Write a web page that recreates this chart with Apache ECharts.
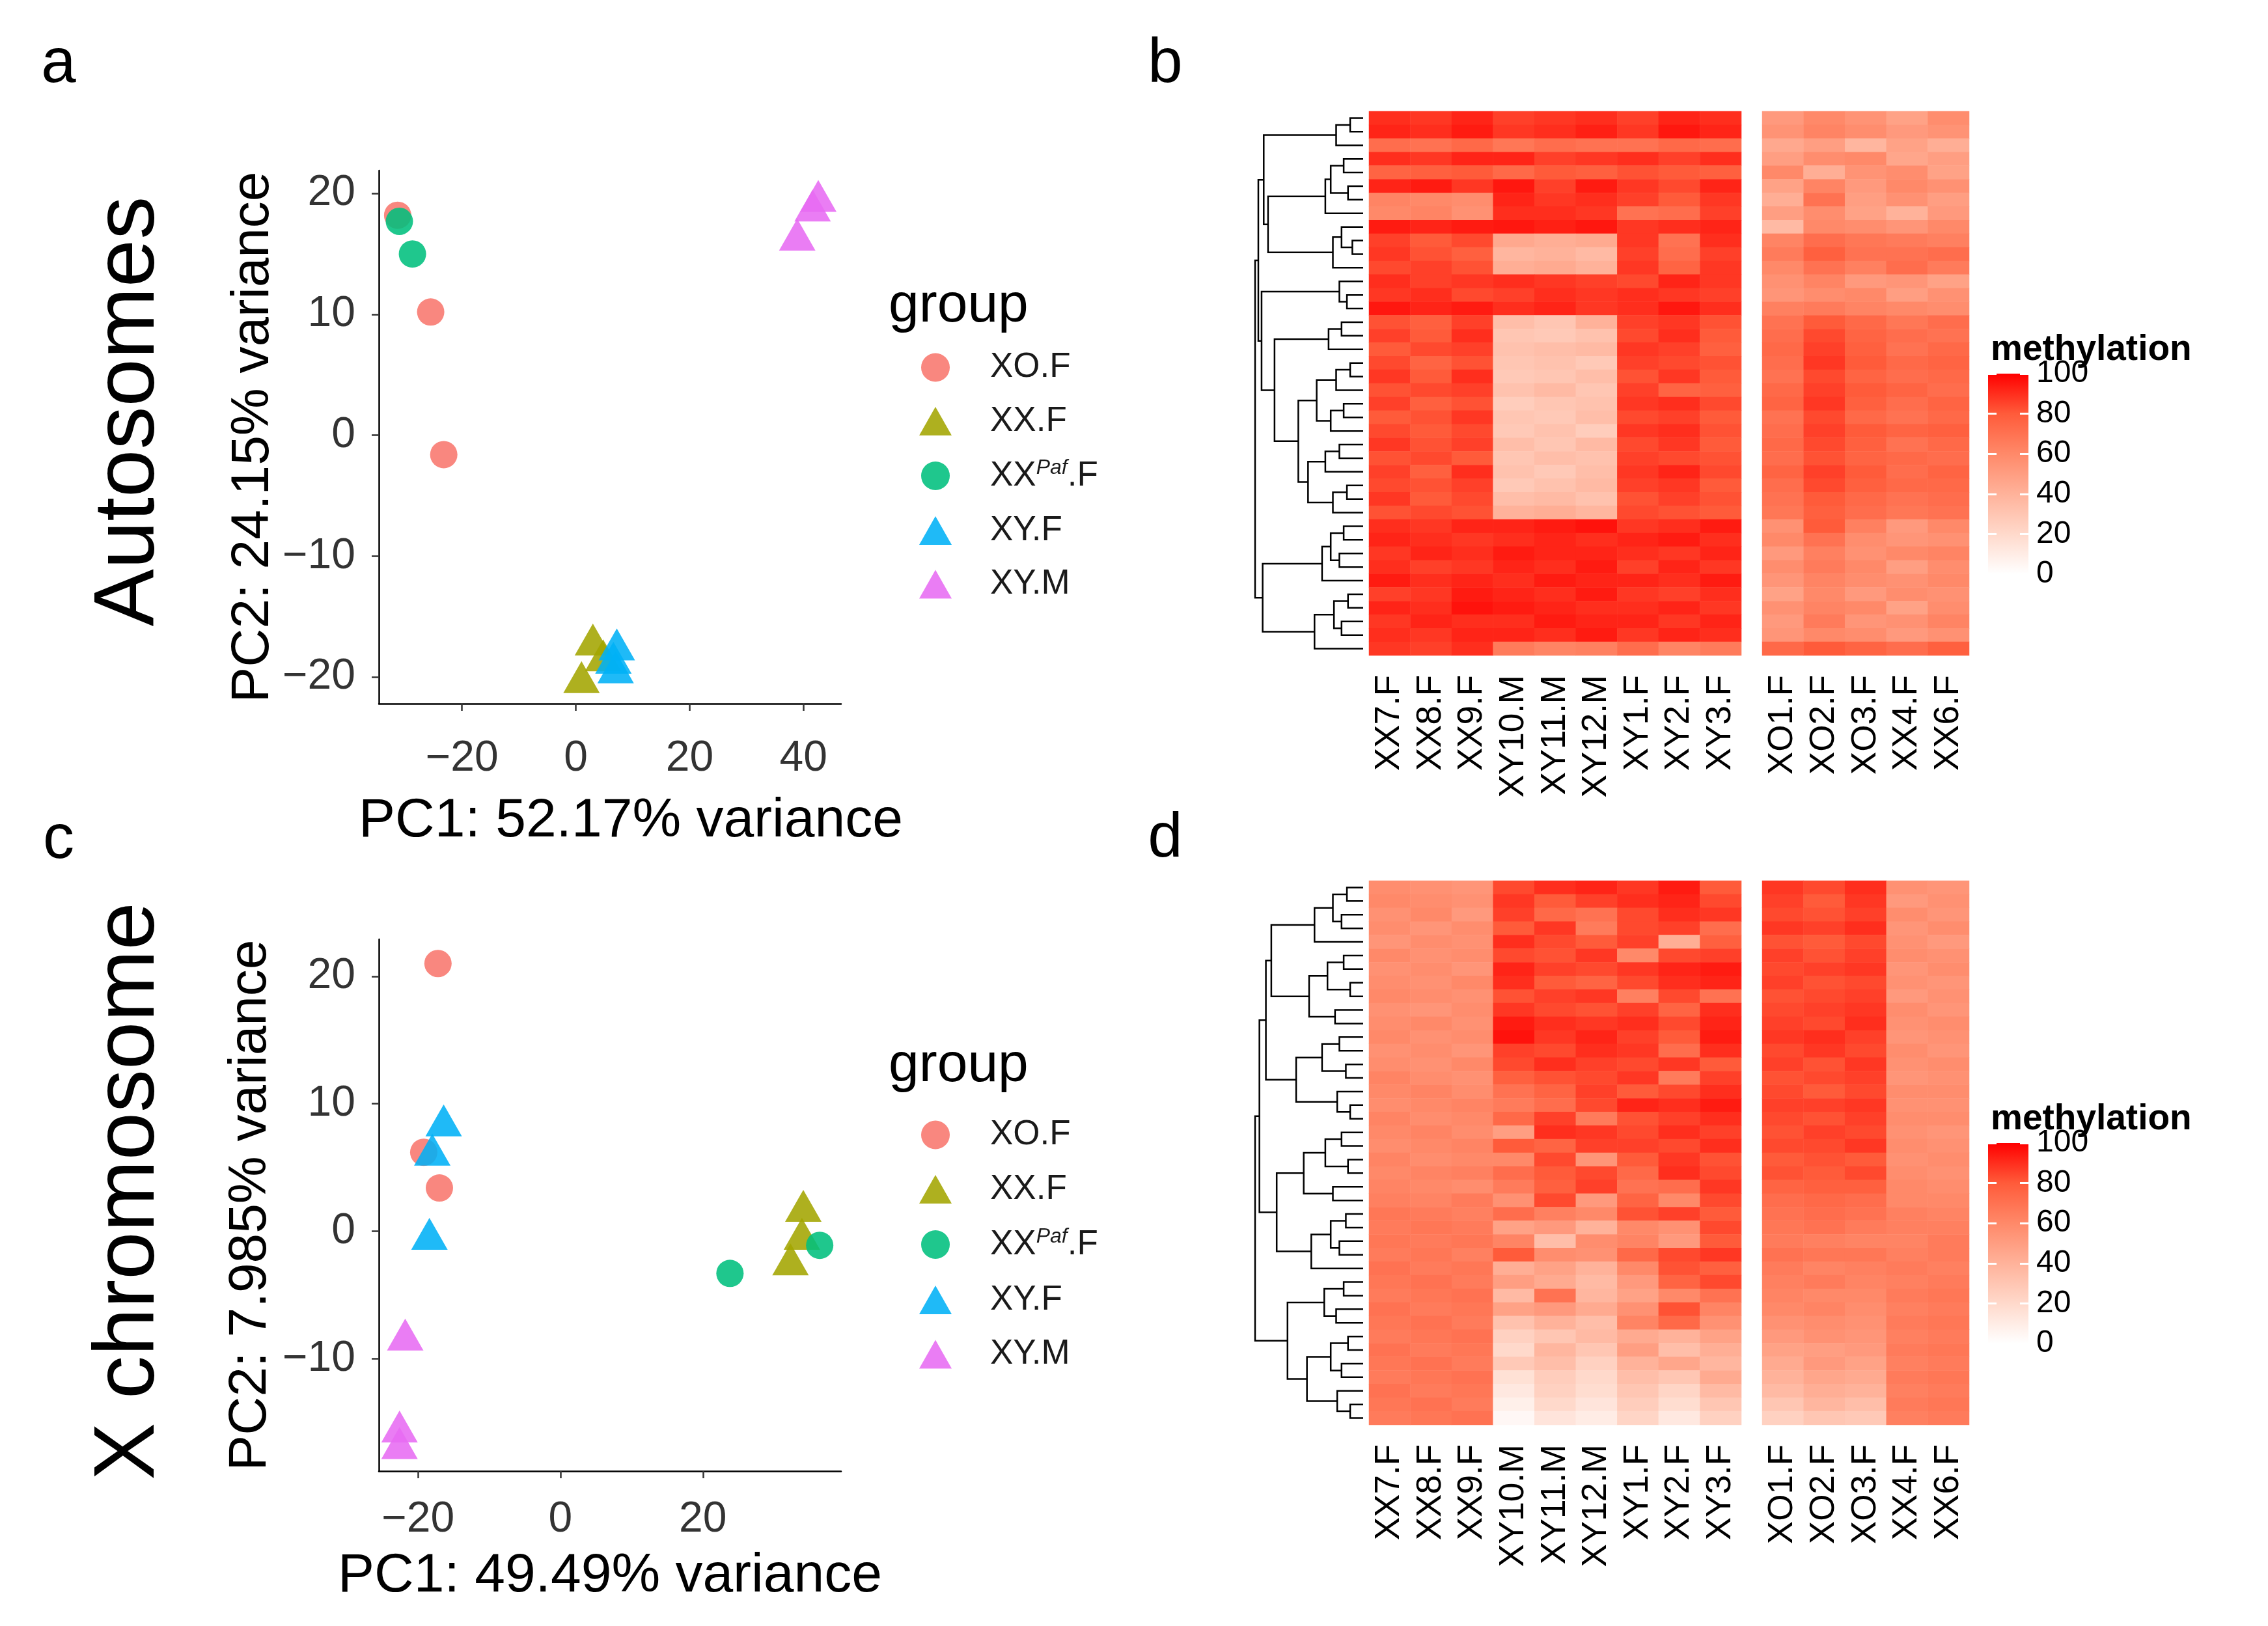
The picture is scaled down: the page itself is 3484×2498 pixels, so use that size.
<!DOCTYPE html>
<html>
<head>
<meta charset="utf-8">
<script src="https://cdn.jsdelivr.net/npm/echarts@6/dist/echarts.min.js"></script>
<style>
html, body { margin: 0; padding: 0; background: #fff; }
#main { width: 3484px; height: 2498px; }
</style>
</head>
<body>
<div id="main"></div>
<script>
var FONT = '"Liberation Sans", Arial, Helvetica, sans-serif';
var NARROW = '"Liberation Sans Narrow", "Arial Narrow", "Liberation Sans", Arial, sans-serif';

// groups shared by both PCA plots
var groups = ['XO.F', 'XX.F', 'XXPaf.F', 'XY.F', 'XY.M'];
var groupColors = ['#F8766D', '#A3A500', '#00BF7D', '#00B0F6', '#E76BF3'];
var groupShapes = ['circle', 'triangle', 'circle', 'triangle', 'triangle'];

// a: autosomes PCA  [PC1, PC2]
var autoXO = [[-31.3, 18.2], [-25.5, 10.2], [-23.2, -1.6]];
var autoXX = [[3.0, -16.9], [1.0, -20.0], [4.8, -18.2]];
var autoXXPaf = [[-31.0, 17.7], [-28.7, 15.0]];
var autoXYF = [[7.2, -17.3], [6.6, -18.4], [7.0, -19.2]];
var autoXYM = [[42.6, 19.8], [41.6, 19.0], [38.9, 16.6]];
var autoXTicks = [-20, 0, 20, 40];
var autoYTicks = [-20, -10, 0, 10, 20];

// c: X chromosome PCA
var xchrXO = [[-17.2, 21.0], [-19.2, 6.2], [-17.0, 3.4]];
var xchrXX = [[34.1, 2.0], [33.9, -0.2], [32.3, -2.2]];
var xchrXXPaf = [[23.8, -3.3], [36.4, -1.1]];
var xchrXYF = [[-16.4, 8.7], [-18.0, 6.4], [-18.4, -0.2]];
var xchrXYM = [[-21.8, -8.1], [-22.6, -15.3], [-22.6, -16.6]];
var xchrXTicks = [-20, 0, 20];
var xchrYTicks = [-10, 0, 10, 20];

// heatmap samples
var sampleLeft = ['XX7.F', 'XX8.F', 'XX9.F', 'XY10.M', 'XY11.M', 'XY12.M', 'XY1.F', 'XY2.F', 'XY3.F'];
var sampleRight = ['XO1.F', 'XO2.F', 'XO3.F', 'XX4.F', 'XX6.F'];

// b: autosomes methylation, one row per region (left 9 samples | right 5 samples)
var autoMeth = [
  [90, 88, 92, 86, 88, 90, 86, 92, 90, 52, 60, 55, 48, 58],
  [92, 90, 94, 88, 90, 93, 88, 95, 92, 55, 62, 58, 52, 55],
  [72, 70, 74, 68, 72, 70, 70, 74, 72, 45, 50, 38, 48, 42],
  [90, 88, 92, 92, 86, 88, 90, 86, 90, 50, 58, 60, 46, 50],
  [76, 78, 80, 74, 80, 78, 82, 80, 78, 60, 42, 55, 58, 48],
  [92, 94, 88, 95, 86, 94, 88, 84, 92, 48, 62, 52, 60, 56],
  [62, 60, 58, 92, 88, 90, 86, 80, 88, 42, 70, 50, 56, 50],
  [60, 62, 56, 90, 90, 88, 70, 72, 86, 50, 58, 48, 40, 52],
  [94, 92, 94, 95, 93, 95, 88, 90, 92, 36, 60, 58, 54, 60],
  [86, 80, 84, 45, 42, 44, 88, 70, 90, 62, 72, 68, 66, 64],
  [88, 82, 78, 38, 40, 36, 86, 72, 86, 66, 78, 70, 70, 72],
  [84, 86, 82, 42, 44, 40, 88, 76, 88, 60, 70, 64, 72, 66],
  [90, 86, 88, 90, 88, 86, 84, 92, 88, 56, 62, 52, 54, 48],
  [88, 90, 84, 86, 90, 88, 90, 88, 86, 54, 58, 60, 50, 56],
  [95, 92, 94, 90, 92, 88, 90, 95, 90, 64, 66, 62, 60, 58],
  [82, 78, 86, 34, 30, 40, 86, 88, 82, 70, 80, 74, 68, 72],
  [86, 80, 90, 30, 28, 32, 84, 90, 80, 72, 84, 76, 72, 70],
  [80, 84, 86, 32, 34, 36, 88, 86, 78, 74, 86, 78, 70, 74],
  [84, 76, 82, 30, 32, 28, 86, 84, 82, 72, 88, 80, 74, 76],
  [88, 80, 90, 28, 30, 34, 82, 88, 80, 70, 84, 76, 72, 74],
  [82, 84, 86, 32, 36, 30, 86, 76, 78, 74, 86, 80, 76, 72],
  [86, 78, 82, 26, 30, 32, 88, 90, 84, 76, 88, 78, 72, 76],
  [80, 82, 88, 30, 28, 34, 84, 86, 80, 70, 84, 74, 70, 74],
  [84, 80, 84, 28, 32, 26, 88, 90, 82, 72, 86, 80, 76, 78],
  [88, 82, 86, 34, 30, 36, 84, 88, 80, 74, 84, 78, 70, 74],
  [82, 84, 80, 30, 34, 32, 86, 84, 82, 72, 82, 76, 74, 72],
  [86, 78, 90, 32, 28, 34, 88, 92, 84, 76, 86, 80, 72, 76],
  [84, 82, 86, 28, 32, 36, 86, 88, 80, 72, 84, 78, 74, 74],
  [88, 80, 84, 34, 36, 32, 82, 86, 82, 70, 80, 74, 70, 72],
  [82, 84, 82, 40, 42, 38, 84, 82, 80, 68, 78, 72, 68, 70],
  [90, 88, 92, 92, 94, 96, 88, 90, 94, 56, 80, 64, 52, 60],
  [92, 90, 88, 90, 92, 90, 92, 94, 90, 60, 70, 58, 54, 56],
  [88, 92, 90, 94, 92, 92, 90, 88, 92, 52, 64, 56, 60, 62],
  [90, 86, 88, 92, 90, 94, 86, 92, 88, 58, 66, 60, 50, 58],
  [94, 90, 92, 90, 94, 92, 92, 90, 94, 54, 62, 58, 56, 60],
  [86, 88, 94, 92, 90, 94, 88, 86, 90, 48, 60, 52, 58, 56],
  [92, 90, 96, 94, 92, 90, 90, 92, 88, 56, 62, 60, 48, 58],
  [88, 92, 90, 90, 94, 92, 92, 88, 92, 52, 66, 54, 56, 62],
  [90, 88, 92, 92, 90, 94, 88, 92, 90, 54, 60, 58, 52, 56],
  [88, 86, 90, 66, 62, 64, 72, 62, 66, 74, 80, 76, 72, 78]
];

// d: X chromosome methylation
var xchrMeth = [
  [58, 56, 54, 84, 90, 92, 88, 94, 80, 88, 84, 90, 56, 54],
  [60, 58, 56, 88, 80, 86, 90, 92, 84, 86, 80, 88, 52, 56],
  [56, 60, 52, 86, 74, 70, 84, 90, 88, 84, 82, 86, 58, 54],
  [58, 54, 58, 80, 88, 66, 84, 86, 72, 88, 86, 90, 54, 58],
  [54, 58, 56, 90, 84, 80, 86, 42, 78, 82, 80, 84, 56, 52],
  [60, 56, 58, 84, 82, 88, 60, 84, 86, 86, 82, 86, 58, 56],
  [56, 58, 54, 92, 86, 84, 88, 92, 94, 84, 86, 88, 54, 58],
  [58, 56, 60, 90, 80, 76, 84, 90, 92, 86, 82, 84, 56, 54],
  [60, 58, 56, 82, 86, 88, 64, 84, 70, 82, 84, 86, 52, 56],
  [56, 54, 58, 88, 84, 82, 86, 76, 90, 84, 86, 88, 58, 54],
  [58, 60, 56, 94, 90, 88, 90, 84, 92, 86, 84, 90, 56, 58],
  [60, 56, 58, 96, 88, 92, 86, 80, 94, 88, 90, 86, 54, 56],
  [56, 58, 54, 86, 84, 90, 88, 72, 90, 84, 88, 84, 58, 54],
  [58, 56, 60, 84, 90, 86, 84, 88, 80, 86, 82, 88, 56, 58],
  [62, 58, 56, 78, 82, 84, 88, 66, 86, 82, 84, 86, 54, 56],
  [60, 62, 58, 70, 76, 86, 80, 84, 90, 84, 80, 84, 58, 58],
  [58, 60, 62, 66, 72, 84, 92, 90, 94, 86, 86, 88, 56, 56],
  [62, 58, 60, 74, 86, 66, 82, 86, 90, 84, 82, 86, 58, 58],
  [60, 62, 58, 50, 90, 88, 84, 90, 86, 82, 86, 84, 56, 54],
  [58, 60, 62, 80, 76, 86, 86, 84, 90, 84, 84, 88, 58, 56],
  [62, 58, 60, 60, 84, 54, 80, 88, 82, 80, 82, 80, 56, 58],
  [60, 62, 64, 72, 80, 84, 74, 90, 84, 82, 80, 84, 58, 56],
  [62, 60, 58, 66, 78, 86, 70, 72, 88, 76, 78, 78, 60, 58],
  [64, 62, 66, 56, 84, 52, 76, 60, 84, 72, 74, 72, 60, 60],
  [68, 66, 64, 72, 64, 60, 82, 86, 80, 70, 72, 70, 64, 62],
  [66, 68, 66, 48, 52, 40, 60, 56, 84, 68, 70, 66, 64, 64],
  [68, 66, 68, 62, 34, 58, 62, 52, 80, 66, 64, 62, 62, 66],
  [66, 68, 64, 80, 58, 56, 74, 84, 88, 70, 68, 68, 64, 66],
  [70, 66, 68, 42, 48, 40, 60, 82, 78, 66, 62, 64, 66, 64],
  [68, 70, 66, 50, 44, 36, 52, 76, 84, 64, 66, 62, 64, 66],
  [66, 68, 70, 36, 70, 38, 48, 60, 70, 62, 60, 60, 66, 68],
  [70, 66, 68, 48, 52, 44, 56, 82, 62, 60, 62, 58, 64, 66],
  [68, 70, 66, 32, 40, 34, 62, 74, 56, 56, 58, 56, 66, 68],
  [66, 68, 70, 24, 30, 36, 44, 40, 48, 52, 56, 54, 64, 66],
  [70, 66, 68, 20, 38, 30, 50, 34, 42, 48, 50, 52, 66, 68],
  [68, 70, 66, 28, 34, 24, 40, 46, 38, 44, 52, 48, 64, 66],
  [66, 68, 70, 16, 26, 20, 34, 30, 44, 40, 46, 44, 66, 68],
  [70, 66, 68, 12, 24, 18, 30, 22, 36, 36, 42, 40, 64, 66],
  [68, 70, 66, 8, 20, 14, 26, 18, 30, 30, 38, 34, 66, 68],
  [66, 68, 70, 4, 14, 10, 22, 12, 24, 24, 30, 28, 64, 66]
];

// row dendrograms: merge height between neighbouring rows (top to bottom)
var autoGaps = [12, 25, 92, 18, 30, 14, 35, 88, 20, 10, 28, 97, 22, 15, 94, 20, 32, 82, 12,
  25, 43, 18, 30, 60, 22, 35, 51, 15, 28, 100, 18, 30, 22, 38, 93, 14, 27, 20, 45];
var xchrGaps = [15, 28, 20, 45, 85, 18, 33, 12, 50, 26, 90, 22, 38, 16, 62, 24, 12, 96, 20,
  35, 14, 55, 28, 80, 16, 30, 22, 48, 100, 18, 36, 25, 70, 14, 30, 20, 52, 24, 12];

// methylation colour scale
var colorBreaks = [0, 20, 40, 60, 80, 100];
var colorStops = ['#FFFFFF', '#FFD9CB', '#FFB29A', '#FF8969', '#FF5B3A', '#FF0000'];

var grids = [], xAxes = [], yAxes = [], series = [], heatSeries = [];

function minus(v) { return String(v).replace('-', '\u2212'); }

function addPca(box, xr, yr, xt, yt, xName, yName, gaps, labelGap, xNameShift, sets) {
  grids.push(box);
  var gi = grids.length - 1;
  var axisCommon = {
    gridIndex: gi, type: 'value', nameLocation: 'middle',
    nameTextStyle: { fontSize: 82, color: '#000', fontFamily: FONT },
    splitLine: { show: false }
  };
  xAxes.push(Object.assign({}, axisCommon, {
    min: xr[0], max: xr[1], name: xName, nameGap: gaps[0],
    nameTextStyle: { fontSize: 84, color: '#000', fontFamily: FONT, padding: [0, 0, 0, xNameShift] },
    axisLine: { show: true, onZero: false, lineStyle: { color: '#000', width: 2.5 } },
    axisTick: { show: true, length: 11, customValues: xt, lineStyle: { color: '#333', width: 2.5 } },
    axisLabel: { customValues: xt, margin: labelGap[0], fontSize: 66, color: '#333', fontFamily: NARROW, formatter: minus }
  }));
  yAxes.push(Object.assign({}, axisCommon, {
    min: yr[0], max: yr[1], name: yName, nameGap: gaps[1], nameRotate: 90,
    axisLine: { show: true, onZero: false, lineStyle: { color: '#000', width: 2.5 } },
    axisTick: { show: true, length: 11, customValues: yt, lineStyle: { color: '#333', width: 2.5 } },
    axisLabel: { customValues: yt, margin: labelGap[1], fontSize: 66, color: '#333', fontFamily: NARROW, formatter: minus }
  }));
  var xi = xAxes.length - 1, yi = yAxes.length - 1;
  sets.forEach(function (d, i) {
    series.push({
      type: 'scatter', name: groups[i], xAxisIndex: xi, yAxisIndex: yi, data: d,
      symbol: groupShapes[i], symbolSize: groupShapes[i] === 'circle' ? 42 : [56, 49],
      itemStyle: { color: groupColors[i], opacity: 0.88 }, silent: true
    });
  });
}

// split a row range at its highest gap, recursively
function buildTree(gaps, lo, hi, out) {
  if (lo === hi) return { y: lo, h: 0 };
  var k = lo;
  for (var i = lo; i < hi; i++) if (gaps[i] > gaps[k]) k = i;
  var L = buildTree(gaps, lo, k, out), R = buildTree(gaps, k + 1, hi, out);
  out.push([gaps[k], L.y, R.y, L.h, R.h]);
  return { y: (L.y + R.y) / 2, h: gaps[k] };
}

function addHeat(top, meth, gaps) {
  var rows = meth.map(function (r, i) { return 'r' + i; });
  var hgt = 836;

  // dendrogram
  grids.push({ left: 1928, top: top, width: 166, height: hgt });
  xAxes.push({ gridIndex: grids.length - 1, type: 'value', min: 0, max: 100, inverse: true, show: false });
  yAxes.push({ gridIndex: grids.length - 1, type: 'value', min: -0.5, max: meth.length - 0.5, inverse: true, show: false });
  var nodes = [];
  buildTree(gaps, 0, meth.length - 1, nodes);
  series.push({
    type: 'custom', xAxisIndex: xAxes.length - 1, yAxisIndex: yAxes.length - 1, silent: true,
    data: nodes, encode: { x: [0, 3, 4], y: [1, 2] },
    renderItem: function (params, api) {
      var h = api.value(0), y1 = api.value(1), y2 = api.value(2);
      var pts = [api.coord([api.value(3), y1]), api.coord([h, y1]), api.coord([h, y2]), api.coord([api.value(4), y2])];
      return { type: 'polyline', shape: { points: pts }, style: { stroke: '#000', lineWidth: 2.5, fill: null } };
    }
  });

  // two heatmap blocks
  [[2103, 572, sampleLeft, 0], [2707, 318, sampleRight, sampleLeft.length]].forEach(function (b) {
    grids.push({ left: b[0], top: top, width: b[1], height: hgt });
    var gi = grids.length - 1;
    xAxes.push({
      gridIndex: gi, type: 'category', data: b[2], position: 'bottom',
      axisLine: { show: false }, axisTick: { show: false }, splitLine: { show: false },
      axisLabel: { interval: 0, rotate: 90, margin: 30, fontSize: 53, color: '#000', fontFamily: FONT }
    });
    yAxes.push({ gridIndex: gi, type: 'category', data: rows, inverse: true, show: false });
    var data = [];
    meth.forEach(function (r, ri) {
      b[2].forEach(function (s, ci) { data.push([ci, ri, r[b[3] + ci]]); });
    });
    series.push({
      type: 'heatmap', xAxisIndex: xAxes.length - 1, yAxisIndex: yAxes.length - 1,
      data: data, silent: true, progressive: 0, itemStyle: { borderWidth: 0 }
    });
    heatSeries.push(series.length - 1);
  });

  // colour bar
  grids.push({ left: 3054, top: top + 403, width: 62, height: 308 });
  var gc = grids.length - 1;
  xAxes.push({ gridIndex: gc, type: 'category', data: ['methylation'], show: false });
  var lo = colorBreaks[0], hi = colorBreaks[colorBreaks.length - 1];
  var tickStyle = { show: true, inside: true, length: 13, lineStyle: { color: '#fff', width: 3 } };
  yAxes.push({
    gridIndex: gc, type: 'value', position: 'right', min: lo, max: hi, interval: 20, z: 10,
    axisLine: { show: false }, axisTick: tickStyle, splitLine: { show: false },
    axisLabel: { margin: 12, fontSize: 48, color: '#000', fontFamily: FONT }
  });
  var yr = yAxes.length - 1;
  yAxes.push({
    gridIndex: gc, type: 'value', position: 'left', min: lo, max: hi, interval: 20, z: 10,
    axisLine: { show: false }, axisTick: tickStyle, splitLine: { show: false }, axisLabel: { show: false }
  });
  series.push({
    type: 'bar', xAxisIndex: xAxes.length - 1, yAxisIndex: yr, data: [hi], barWidth: '100%', silent: true,
    itemStyle: {
      color: new echarts.graphic.LinearGradient(0, 1, 0, 0, colorStops.map(function (c, i) {
        return { offset: (colorBreaks[i] - lo) / (hi - lo), color: c };
      }))
    }
  });
}

addPca({ left: 582, top: 262, width: 710, height: 819 }, [-34.6, 46.6], [-22.2, 21.9],
  autoXTicks, autoYTicks, 'PC1: 52.17% variance', 'PC2: 24.15% variance', [139, 118], [52, 36], 64,
  [autoXO, autoXX, autoXXPaf, autoXYF, autoXYM]);
addPca({ left: 582, top: 1443, width: 710, height: 817 }, [-25.5, 39.4], [-18.8, 22.9],
  xchrXTicks, xchrYTicks, 'PC1: 49.49% variance', 'PC2: 7.985% variance', [120, 156], [42, 36], 0,
  [xchrXO, xchrXX, xchrXXPaf, xchrXYF, xchrXYM]);
addHeat(171, autoMeth, autoGaps);
addHeat(1353, xchrMeth, xchrGaps);

function legendAt(top, gap) {
  return {
    orient: 'vertical', left: 1407, top: top, itemWidth: 50, itemHeight: 44, itemGap: gap,
    selectedMode: false,
    data: groups.map(function (g, i) { return { name: g, icon: groupShapes[i] }; }),
    formatter: function (name) {
      return name === 'XXPaf.F' ? '{n|XX}{s|Paf}{n|.F}' : '{n|' + name + '}';
    },
    textStyle: {
      padding: [0, 0, 0, 54],
      rich: {
        n: { fontSize: 53, lineHeight: 44, color: '#1a1a1a', fontFamily: FONT },
        s: { fontSize: 32, lineHeight: 20, fontStyle: 'italic', color: '#1a1a1a', fontFamily: FONT, padding: [0, 0, 24, 0] }
      }
    }
  };
}

function txt(s, x, y, size, opts) {
  return Object.assign({
    type: 'text', x: x, y: y,
    style: { text: s, fontSize: size, fontFamily: FONT, fill: '#000', textAlign: 'center', textVerticalAlign: 'middle' }
  }, opts || {});
}

var graphics = [
  txt('a', 90, 100, 96), txt('b', 1790, 100, 96), txt('c', 90, 1292, 96), txt('d', 1790, 1290, 96),
  txt('Autosomes', 200, 632, 132, { rotation: Math.PI / 2 }),
  txt('X chromosome', 200, 1830, 132, { rotation: Math.PI / 2 })
];
[471, 1638].forEach(function (y) {
  var t = txt('group', 1365, y, 84);
  t.style.textAlign = 'left';
  graphics.push(t);
});
[538, 1720].forEach(function (y) {
  var t = txt('methylation', 3058, y, 55);
  t.style.textAlign = 'left';
  t.style.fontWeight = 'bold';
  graphics.push(t);
});

var chart = echarts.init(document.getElementById('main'));
chart.setOption({
  animation: false,
  backgroundColor: '#fff',
  grid: grids,
  xAxis: xAxes,
  yAxis: yAxes,
  legend: [legendAt(533, 29.5), legendAt(1712, 30.5)],
  visualMap: {
    type: 'continuous', show: false, min: colorBreaks[0], max: colorBreaks[colorBreaks.length - 1],
    seriesIndex: heatSeries, inRange: { color: colorStops }
  },
  graphic: graphics,
  series: series
});
</script>
</body>
</html>
